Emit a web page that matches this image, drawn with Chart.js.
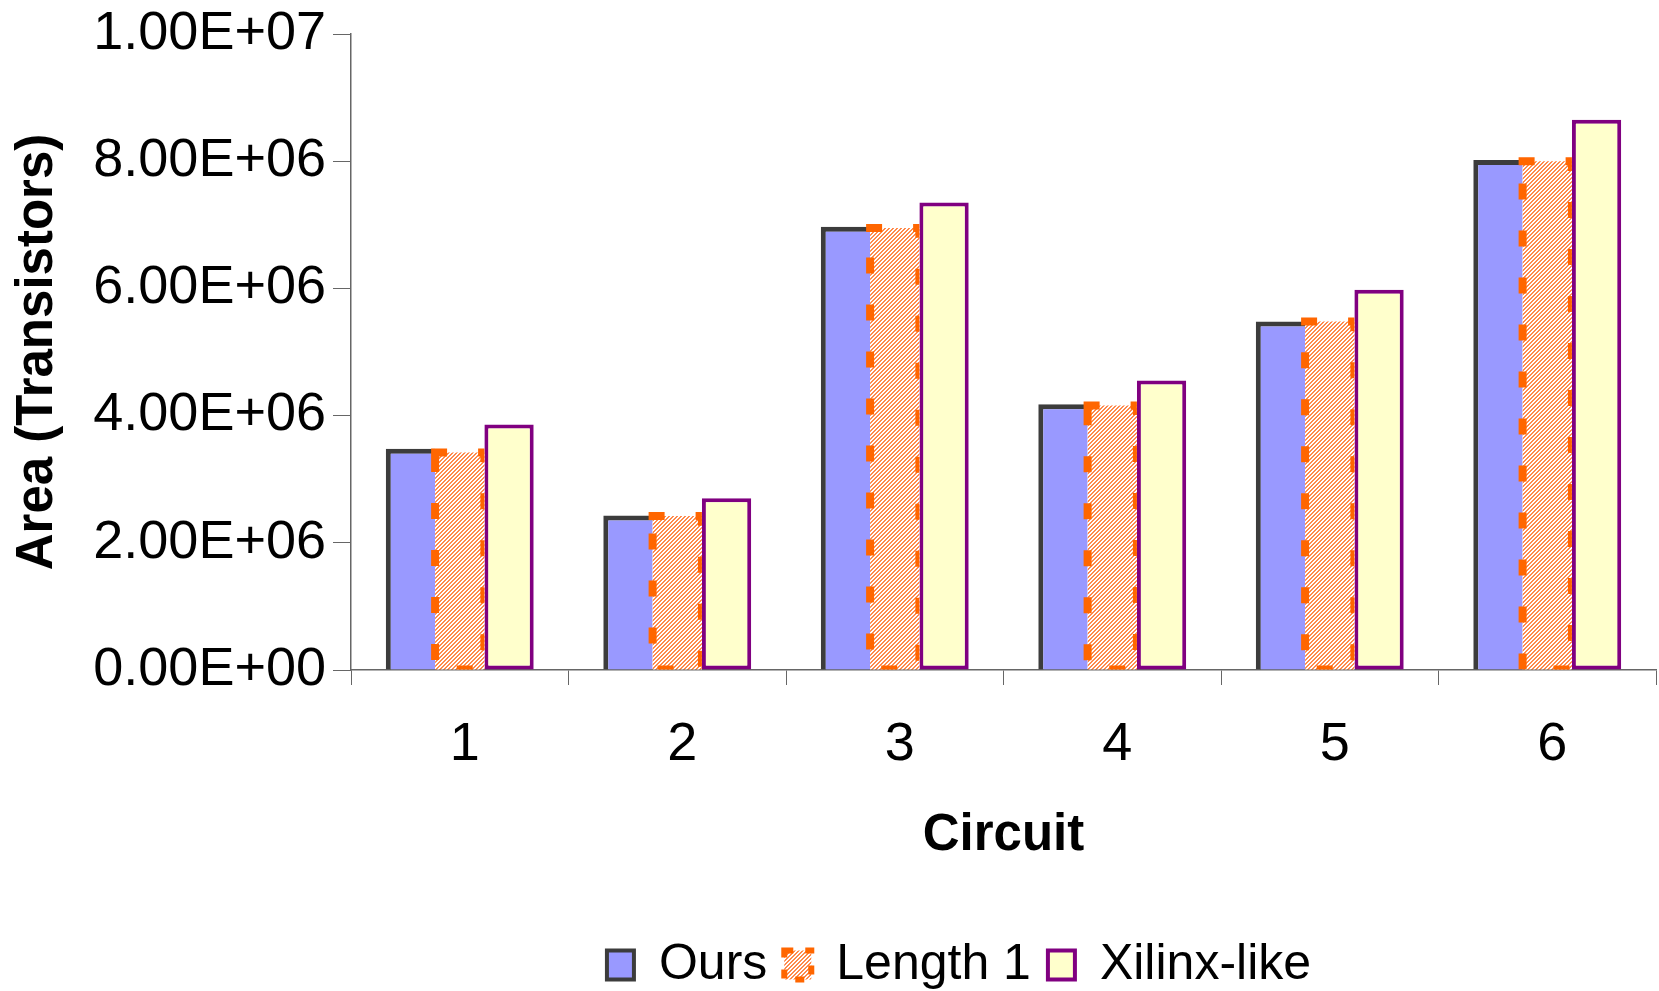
<!DOCTYPE html>
<html>
<head>
<meta charset="utf-8">
<script src="https://cdn.jsdelivr.net/npm/chart.js@4.4.1/dist/chart.umd.min.js"></script>
<style>
  html, body { margin: 0; padding: 0; background: #fff; }
</style>
</head>
<body>
<canvas id="c" width="1659" height="991"></canvas>
<script>
"use strict";

// ---- data ----
var circuits = ["1", "2", "3", "4", "5", "6"];
var oursArea = [3.48e6, 2.43e6, 6.97e6, 4.18e6, 5.48e6, 8.02e6];
var length1Area = [3.42e6, 2.42e6, 6.95e6, 4.16e6, 5.48e6, 8.00e6];
var xilinxArea = [3.86e6, 2.70e6, 7.35e6, 4.55e6, 5.98e6, 8.65e6];
var yTicks = [0, 2e6, 4e6, 6e6, 8e6, 1e7];

var FONT = "'Liberation Sans', Arial, sans-serif";
var AXIS = "#666666";
var PAD_BOTTOM = -9;

// Excel-like "1.00E+07"
function fmtE(v) {
  if (v === 0) return "0.00E+00";
  var e = Math.floor(Math.log10(Math.abs(v)) + 1e-9);
  var m = v / Math.pow(10, e);
  return m.toFixed(2) + "E" + (e < 0 ? "-" : "+") + (Math.abs(e) < 10 ? "0" : "") + Math.abs(e);
}

// fine orange/white diagonal hatch
function makeHatch() {
  var c = document.createElement("canvas");
  c.width = 4; c.height = 4;
  var g = c.getContext("2d");
  g.fillStyle = "#ffffff";
  g.fillRect(0, 0, 4, 4);
  g.fillStyle = "#ff8a4c";
  for (var y = 0; y < 4; y++) {
    for (var x = 0; x < 4; x++) {
      if ((x + y) % 4 < 2) g.fillRect(x, y, 1, 1);
    }
  }
  return g.createPattern(c, "repeat");
}
var hatch = makeHatch();

// dashed orange outline of the "Length 1" bars (bar elements have no dash option)
var dashBorder = {
  id: "dashBorder",
  afterLayout: function(chart) {
    // legend sits right of the page centre in the original
    if (chart.legend) { chart.legend.left += 131; chart.legend.right += 131; }
  },
  afterDatasetsDraw: function(chart) {
    var meta = chart.getDatasetMeta(1);
    var ctx = chart.ctx;
    meta.data.forEach(function(bar) {
      var p = bar.getProps(["x", "y", "base", "width"], true);
      var l = p.x - p.width / 2, r = p.x + p.width / 2;
      ctx.save();
      ctx.beginPath();
      ctx.rect(l - 6, p.y - 6, (r - l) + 6, p.base - p.y + 6);
      ctx.clip();
      ctx.strokeStyle = "#ff6600";
      ctx.lineWidth = 8;
      ctx.lineCap = "square";
      ctx.setLineDash([8, 39]);
      ctx.beginPath();
      ctx.moveTo(l, p.y);
      ctx.lineTo(r, p.y);
      ctx.lineTo(r, p.base);
      ctx.lineTo(l, p.base);
      ctx.closePath();
      ctx.stroke();
      ctx.restore();
    });
  }
};

var legendStyle = [
  { fillStyle: "#9999ff", strokeStyle: "#3c3c3c", lineWidth: 4, lineDash: [] },
  { fillStyle: hatch, strokeStyle: "#ff6600", lineWidth: 6, lineDash: [9, 12] },
  { fillStyle: "#ffffcc", strokeStyle: "#800080", lineWidth: 4, lineDash: [] }
];

new Chart(document.getElementById("c").getContext("2d"), {
  type: "bar",
  data: {
    labels: circuits,
    datasets: [
      {
        label: "Ours",
        data: oursArea,
        backgroundColor: "#9999ff",
        borderColor: "#3c3c3c",
        borderWidth: { left: 5, top: 5, right: 0, bottom: 0 },
        borderSkipped: false
      },
      {
        label: "Length 1",
        data: length1Area,
        backgroundColor: hatch,
        borderWidth: 0
      },
      {
        label: "Xilinx-like",
        data: xilinxArea,
        backgroundColor: "#ffffcc",
        borderColor: "#800080",
        borderWidth: 4,
        borderSkipped: false
      }
    ]
  },
  options: {
    responsive: false,
    animation: false,
    events: [],
    layout: { padding: { top: 33, right: 3, left: 0, bottom: PAD_BOTTOM } },
    datasets: { bar: { categoryPercentage: 0.68, barPercentage: 1.0 } },
    plugins: {
      tooltip: { enabled: false },
      legend: {
        position: "bottom",
        labels: {
          color: "#000",
          font: { family: FONT, size: 50 },
          boxWidth: 27,
          boxHeight: 29,
          padding: 17,
          generateLabels: function(chart) {
            return chart.data.datasets.map(function(ds, i) {
              var s = legendStyle[i];
              return {
                text: ds.label,
                fillStyle: s.fillStyle,
                strokeStyle: s.strokeStyle,
                lineWidth: s.lineWidth,
                lineDash: s.lineDash,
                hidden: false,
                datasetIndex: i
              };
            });
          }
        }
      }
    },
    scales: {
      x: {
        grid: { display: true, drawOnChartArea: false, drawTicks: true, tickLength: 15, color: AXIS, offset: true },
        border: { display: true, color: AXIS, width: 1.5 },
        ticks: { color: "#000", font: { family: FONT, size: 54 }, padding: 28, labelOffset: 5, maxRotation: 0 },
        title: {
          display: true,
          text: "Circuit",
          color: "#000",
          font: { family: FONT, size: 51, weight: "bold" },
          padding: { top: 0, bottom: 56 }
        },
        afterFit: function(s) {
          var lh = s.chart.legend ? s.chart.legend.height : 90;
          s.height = s.chart.height - PAD_BOTTOM - 670 - lh;
        }
      },
      y: {
        min: 0,
        max: 1e7,
        afterBuildTicks: function(s) {
          s.ticks = yTicks.map(function(v) { return { value: v }; });
        },
        grid: { display: true, drawOnChartArea: false, drawTicks: true, tickLength: 18, color: AXIS },
        border: { display: true, color: AXIS, width: 1.5 },
        ticks: {
          color: "#000",
          font: { family: FONT, size: 54, lineHeight: 1.0 },
          padding: 7,
          callback: function(v) { return fmtE(v); }
        },
        title: {
          display: true,
          text: "Area (Transistors)",
          color: "#000",
          font: { family: FONT, size: 51, weight: "bold" },
          padding: { top: 7, bottom: 0 }
        },
        afterFit: function(s) { s.width = 351; }
      }
    }
  },
  plugins: [dashBorder]
});
</script>
</body>
</html>
